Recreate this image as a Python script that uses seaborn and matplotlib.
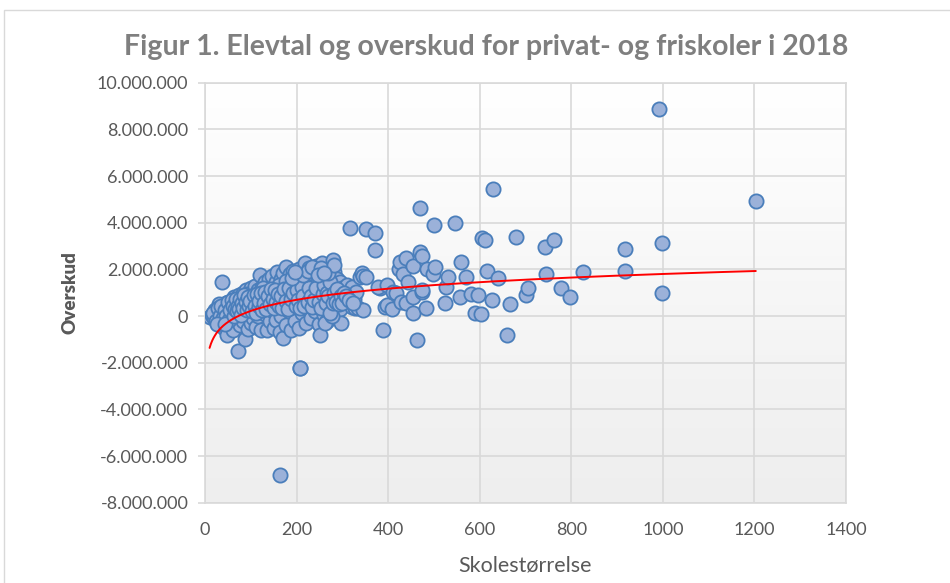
import numpy as np
import pandas as pd
import matplotlib
matplotlib.use("Agg")
import matplotlib.pyplot as plt
from matplotlib.patches import Rectangle
from matplotlib.ticker import FuncFormatter
from matplotlib.colors import LinearSegmentedColormap
import seaborn as sns

# ---- data (school size, surplus in million NOK) ----
school_size = [
    10, 15, 20, 25, 30, 35, 38, 40, 42, 45, 47, 48, 50, 30, 22, 36,
    52, 55, 58, 60, 62, 64, 66, 68, 70, 72, 73, 75, 76, 78, 80, 82, 84, 85, 87, 88,
    90, 92, 94, 95, 97, 98, 100, 100, 56, 66, 86, 92,
    102, 104, 105, 107, 108, 110, 112, 114, 115, 116, 118, 120, 121, 123, 124, 126,
    128, 130, 131, 133, 135, 136, 138, 140, 141, 143, 145, 146, 148, 150, 150, 112,
    127, 139, 147,
    152, 154, 155, 157, 158, 160, 161, 163, 164, 165, 167, 168, 170, 171, 172, 174,
    175, 176, 178, 179, 180, 182, 183, 185, 186, 188, 190, 191, 193, 194, 196, 197,
    198, 200, 200, 162, 177, 189, 195,
    202, 204, 205, 206, 208, 209, 210, 212, 213, 215, 216, 218, 219, 220, 222, 223,
    225, 226, 228, 229, 230, 232, 233, 235, 236, 238, 240, 241, 243, 244, 245, 247,
    248, 250, 251, 221, 237, 246,
    252, 254, 255, 256, 258, 260, 261, 263, 265, 266, 268, 270, 271, 273, 275, 276,
    278, 280, 281, 283, 285, 286, 288, 290, 292, 294, 295, 298, 300, 300, 262, 277,
    303, 306, 310, 313, 317, 318, 320, 322, 325, 328, 330, 335, 338, 342, 344, 346, 351,
    # denser core of the cluster
    18, 24, 28, 32, 34, 40, 43, 46, 50, 53, 57, 59, 27, 44, 54,
    61, 63, 65, 67, 69, 71, 74, 77, 79, 81, 83, 86, 89, 91, 93, 96, 99, 103, 106, 109,
    111, 113, 117, 119, 122, 125, 129, 132, 134, 137, 142, 144, 149, 151, 153, 156, 159,
    161, 166, 169, 173, 176, 181, 184, 187, 192, 199, 201, 203, 207, 211,
    214, 217, 224, 227, 231, 234, 239, 242, 249, 253, 257, 259,
    264, 267, 269, 272, 274, 279, 282, 287, 289, 293, 296, 299, 304, 308, 315, 323,
    190, 213, 226, 234, 253, 268, 282, 246, 260, 196,
    # larger schools
    352, 371, 371, 382, 378, 389, 393, 397, 398, 408, 410, 418, 424, 426, 429, 432,
    440, 440, 444, 455, 455, 455, 463, 470, 473, 470, 475, 475, 483, 484, 499, 500,
    502, 525, 526, 530, 546, 557, 560, 570, 582, 590, 597, 602, 605, 612, 616, 626,
    630, 640, 659, 667, 679, 700, 706, 742, 745, 763, 777, 798, 826, 917, 918, 991,
    999, 999, 1203, 164, 208,
]
surplus_mill = [
    -0.05, 0.05, -0.1, 0.1, -0.3, 0.2, 1.44, 0.4, -0.5, 0.55, -0.81, 0.3, 0.1, 0.5, 0.25, -0.2,
    0.45, -0.3, 0.6, 0.2, -0.6, 0.8, 0.35, -0.1, 0.65, 0.1, -1.49, 0.9, -0.4, 0.5, 0.25, 1.0, -0.2, 0.7, -1.0, 0.4,
    1.1, 0.0, 0.6, -0.55, 0.85, 0.3, 1.2, -0.3, 0.0, 0.55, 0.15, 0.95,
    0.5, 0.75, -0.1, 1.0, 0.25, 1.3, -0.45, 0.6, 1.1, 0.0, 0.85, 1.76, 0.35, -0.6, 1.25, 0.55,
    0.9, 1.45, 0.1, 0.7, -0.6, 1.15, 0.4, 1.6, -0.2, 0.95, 0.6, 1.3, 0.2, 1.0, -0.5, 0.8,
    1.2, 0.75, 1.7,
    0.5, 1.45, -0.15, 0.8, 1.9, 0.3, 1.15, -0.7, 0.65, 1.6, 0.0, 1.0, 1.85, -0.96, 0.45, 1.3,
    0.8, -0.4, 2.11, 1.1, 0.55, 1.55, 0.2, 0.95, 1.8, -0.6, 1.25, 0.7, 1.95, 0.3, 1.05, -0.2,
    1.5, 0.85, 1.75, 1.35, 1.5, 0.45, 0.6,
    0.4, 1.3, 2.0, -0.5, -2.23, 0.9, 1.6, 0.15, 1.15, 1.9, 0.6, 2.26, 1.35, -0.3, 0.8, 1.7,
    1.1, 0.3, 2.05, 1.45, 0.65, -0.1, 1.25, 1.85, 0.5, 0.95, 1.6, 0.2, 2.15, 1.05, 0.7, 1.4,
    -0.35, 1.9, -0.81, 1.5, 1.3, 0.4,
    0.9, 1.2, 2.26, 0.45, 1.6, 0.05, 1.0, 1.75, 0.7, -0.2, 1.35, 2.0, 0.5, 1.1, 0.25, 1.55,
    0.85, 2.4, 1.9, 0.4, 1.25, 0.0, 1.6, 0.75, 1.05, 0.3, 1.45, -0.31, 0.95, 1.2, -0.3, 0.0,
    0.83, 1.1, 1.35, 0.61, 3.76, 1.0, 0.4, 1.25, 0.75, 0.33, 1.05, 0.33, 1.69, 1.83, 1.71, 0.26, 1.68,
    # denser core of the cluster
    0.15, -0.2, 0.35, 0.0, 0.45, -0.1, 0.25, 0.0, 0.6, -0.15, 0.3, 0.7, -0.35, -0.35, 0.25,
    0.45, 0.0, 0.3, 0.75, 0.2, 0.45, 0.3, 0.75, 0.05, 0.55, 0.35, 0.9, 0.6, 0.25, 0.8, 0.45, 0.65, 0.2, 0.9, 0.45,
    0.15, 0.95, 0.45, 0.65, 1.0, 0.25, 0.55, 1.05, 0.3, 0.85, 0.5, 1.15, 0.75, 0.35, 1.1, 0.6, 0.95,
    0.45, 0.85, 0.35, 1.15, 0.65, 0.3, 1.2, 0.75, 1.0, 0.45, 1.1, 0.7, 0.35, 1.25,
    0.85, 0.45, 0.6, 1.2, 0.85, 0.4, 0.7, 1.2, 0.6, 0.35, 0.95, 1.35,
    0.55, 1.0, 0.85, 0.15, 1.45, 0.55, 1.0, 0.6, 1.15, 0.5, 0.85, 0.55, 1.0, 0.85, 0.7, 0.55,
    1.65, 1.75, 1.95, 2.1, 2.05, 1.85, 2.2, 1.75, 1.85, 1.9,
    # larger schools
    3.72, 3.57, 2.83, 1.19, 1.26, -0.6, 0.4, 0.47, 1.33, 0.29, 1.04, 0.97, 2.0, 2.33, 0.61, 1.79,
    2.47, 0.54, 1.47, 2.14, 0.83, 0.11, -1.04, 2.76, 2.57, 4.62, 1.04, 1.11, 0.33, 2.03, 1.8, 3.9,
    2.11, 0.57, 1.26, 1.68, 4.0, 0.83, 2.3, 1.69, 0.94, 0.14, 0.91, 0.1, 3.33, 3.26, 1.91, 0.67,
    5.43, 1.62, -0.81, 0.5, 3.37, 0.9, 1.21, 2.96, 1.8, 3.26, 1.21, 0.8, 1.89, 1.93, 2.86, 8.86,
    3.12, 1.0, 4.91, -6.8, -2.23,
]

# logarithmic trendline y = a*ln(x) + b (million NOK)
trend_a_mill = 0.688
trend_b_mill = -2.95

x_ticks = [0, 200, 400, 600, 800, 1000, 1200, 1400]
y_ticks = [-8_000_000, -6_000_000, -4_000_000, -2_000_000, 0, 2_000_000,
           4_000_000, 6_000_000, 8_000_000, 10_000_000]

title = "Figur 1. Elevtal og overskud for privat- og friskoler i 2018"
x_label = "Skolestørrelse"
y_label = "Overskud"

# ---- build table ----
df = pd.DataFrame({"size": school_size,
                   "surplus": np.array(surplus_mill) * 1_000_000})

xs = np.linspace(df["size"].min(), df["size"].max(), 400)
trend = pd.DataFrame({"size": xs,
                      "surplus": (trend_a_mill * np.log(xs) + trend_b_mill) * 1_000_000})

# ---- style ----
sns.set_theme(style="white")
plt.rcParams["font.family"] = ["Lato", "DejaVu Sans"]
grid_c = "#D9D9D9"
text_c = "#595959"

fig = plt.figure(figsize=(9.5, 5.83), dpi=100)
ax = fig.add_axes([205 / 950, 1 - 502.7 / 583, (846 - 205) / 950, (502.7 - 82.7) / 583])

# subtle gradient plot background
grad = np.linspace(0, 1, 256).reshape(-1, 1)
cmap = LinearSegmentedColormap.from_list("bg", ["#FFFFFF", "#EEEEEE"])
ax.imshow(grad, extent=[0, 1, 0, 1], transform=ax.transAxes, aspect="auto",
          cmap=cmap, zorder=0, origin="upper")

sns.scatterplot(data=df, x="size", y="surplus", ax=ax, s=105,
                color="#9BB1D9", edgecolor="#4A7EBB", linewidth=1.3,
                zorder=3, legend=False)
sns.lineplot(data=trend, x="size", y="surplus", ax=ax, color="#FF0000",
             linewidth=1.4, zorder=4, estimator=None, legend=False)

ax.set_xlim(0, 1400)
ax.set_ylim(-8_000_000, 10_000_000)
ax.set_xticks(x_ticks)
ax.set_yticks(y_ticks)
ax.yaxis.set_major_formatter(FuncFormatter(lambda v, p: f"{int(v):,}".replace(",", ".")))
ax.grid(True, color=grid_c, linewidth=1.2, zorder=1)
ax.set_axisbelow(True)
for s in ax.spines.values():
    s.set_color(grid_c)
    s.set_linewidth(1.2)
ax.tick_params(axis="y", length=5, width=1.2, color=grid_c, pad=7,
               labelsize=13, labelcolor=text_c, left=True)
ax.tick_params(axis="x", length=0, pad=14, labelsize=13, labelcolor=text_c)
ax.set_xlabel("")
ax.set_ylabel("")

fig.text(0.512, 1 - 47 / 583, title, ha="center", va="center",
         fontsize=20.5, fontweight="bold", color="#7F7F7F")
fig.text(525.5 / 950, 1 - 565 / 583, x_label, ha="center", va="center",
         fontsize=15.5, color=text_c)
fig.text(70 / 950, 1 - 292.7 / 583, y_label, ha="center", va="center",
         rotation=90, fontsize=13.5, fontweight="heavy", color=text_c)

# outer chart border
fig.patches.append(Rectangle((4 / 950, -0.1), 1.2, 1 - 10 / 583 + 0.1,
                             transform=fig.transFigure, fill=False,
                             edgecolor="#D9D9D9", linewidth=1.0))

fig.savefig("out.png", dpi=100, facecolor="white")
